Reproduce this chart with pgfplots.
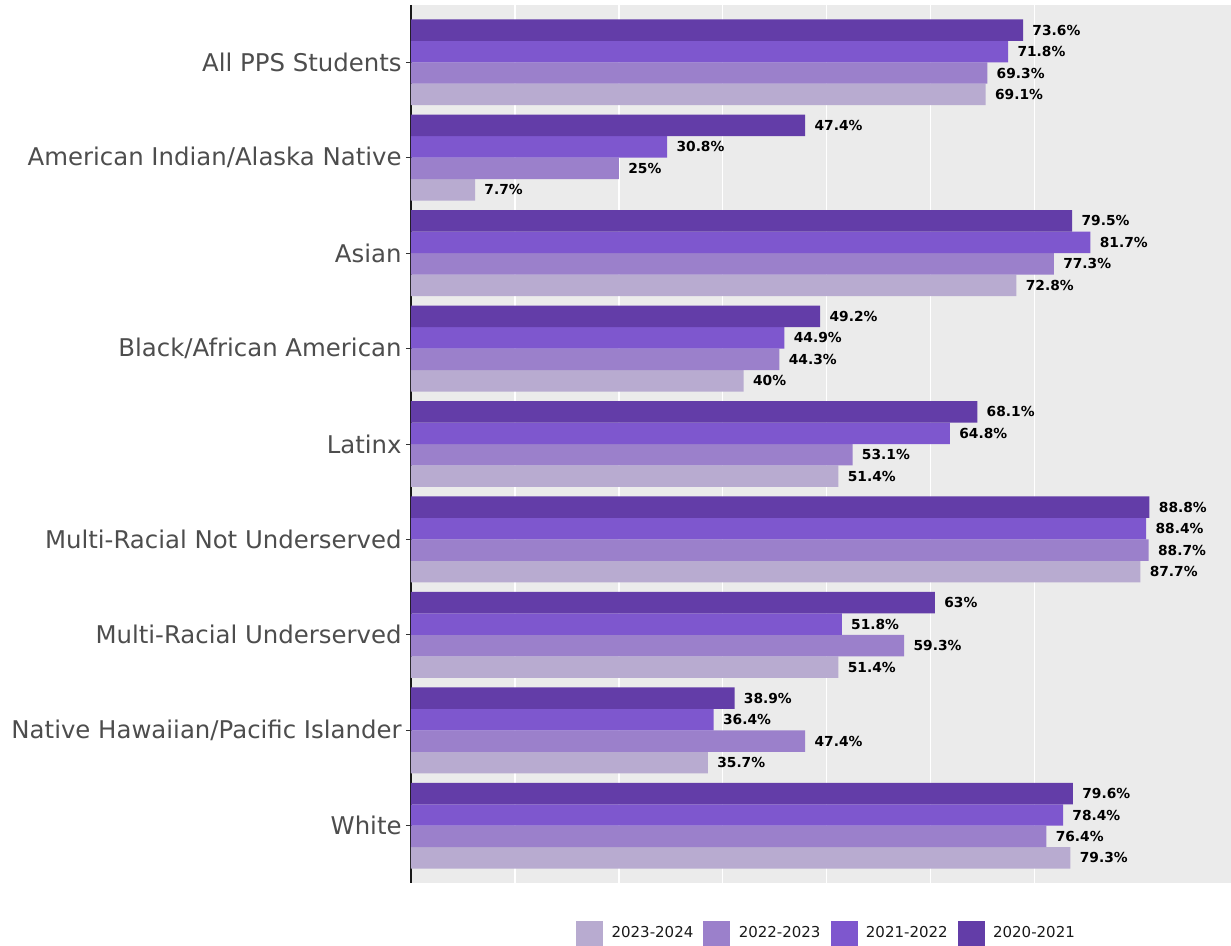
\documentclass[border=0pt]{standalone}
\usepackage{fontspec}
\setmainfont{DejaVu Sans}
\usepackage{pgfplots}
\pgfplotsset{compat=1.18}
\definecolor{bgray}{HTML}{EBEBEB}
\definecolor{cA}{HTML}{633DA8}
\definecolor{cB}{HTML}{7E57CE}
\definecolor{cC}{HTML}{9B80CB}
\definecolor{cD}{HTML}{B8ABD0}
\definecolor{labgray}{HTML}{4D4D4D}
\begin{document}
\begin{tikzpicture}
\begin{axis}[
  scale only axis,
  width=410pt, height=439pt,
  xbar, bar width=0.225,
  xmin=0, xmax=98.6,
  ymin=-0.6, ymax=8.6,
  y dir=reverse,
  ytick={0,...,8},
  yticklabels={All PPS Students, American Indian/Alaska Native, Asian,
    Black/African American, Latinx, Multi-Racial Not Underserved,
    Multi-Racial Underserved, Native Hawaiian/Pacific Islander, White},
  yticklabel style={font=\fontsize{12.2}{14}\selectfont, text=labgray, inner sep=0pt, xshift=-2pt},
  xtick={0,25,50,75}, minor x tick num=1,
  xticklabels={},
  xmajorgrids, xminorgrids,
  major x grid style={white, line width=0.6pt},
  minor x grid style={white, line width=0.6pt},
  x tick style={draw=none},
  y tick style={draw=black!80, line width=0.5pt},
  tick align=outside, major tick length=2.5pt,
  axis lines*=left,
  x axis line style={draw=none},
  y axis line style={-, line width=1pt, black!90},
  axis background/.style={fill=bgray},
  clip=false,
  point meta=x,
  nodes near coords={\pgfmathprintnumber{\pgfplotspointmeta}\%},
  /pgf/number format/assume math mode=true,
  every node near coord/.append style={anchor=west, inner sep=0pt, xshift=4.5pt,
    font=\fontsize{6.9}{8}\selectfont\bfseries, text=black},
  legend columns=4,
  legend style={draw=none, fill=none, at={(0.508,-0.057)}, anchor=center,
    font=\fontsize{7.5}{9}\selectfont, text=black!90,
    /tikz/every odd column/.append style={column sep=2.2pt},
    /tikz/every even column/.append style={column sep=3pt}},
  legend image code/.code={\fill[#1, draw=none] (0pt,-6.25pt) rectangle (13.5pt,6.25pt);},
]
\addplot[fill=cD, draw=none, bar shift=0.3375] coordinates {
  (69.1,0) (7.7,1) (72.8,2) (40,3) (51.4,4) (87.7,5) (51.4,6) (35.7,7) (79.3,8)};
\addlegendentry{2023-2024}
\addplot[fill=cC, draw=none, bar shift=0.1125] coordinates {
  (69.3,0) (25,1) (77.3,2) (44.3,3) (53.1,4) (88.7,5) (59.3,6) (47.4,7) (76.4,8)};
\addlegendentry{2022-2023}
\addplot[fill=cB, draw=none, bar shift=-0.1125] coordinates {
  (71.8,0) (30.8,1) (81.7,2) (44.9,3) (64.8,4) (88.4,5) (51.8,6) (36.4,7) (78.4,8)};
\addlegendentry{2021-2022}
\addplot[fill=cA, draw=none, bar shift=-0.3375] coordinates {
  (73.6,0) (47.4,1) (79.5,2) (49.2,3) (68.1,4) (88.8,5) (63,6) (38.9,7) (79.6,8)};
\addlegendentry{2020-2021}
\end{axis}
\pgfresetboundingbox
\path (-205.5pt,-31.5pt) rectangle (410pt,441.5pt);
\end{tikzpicture}
\end{document}
